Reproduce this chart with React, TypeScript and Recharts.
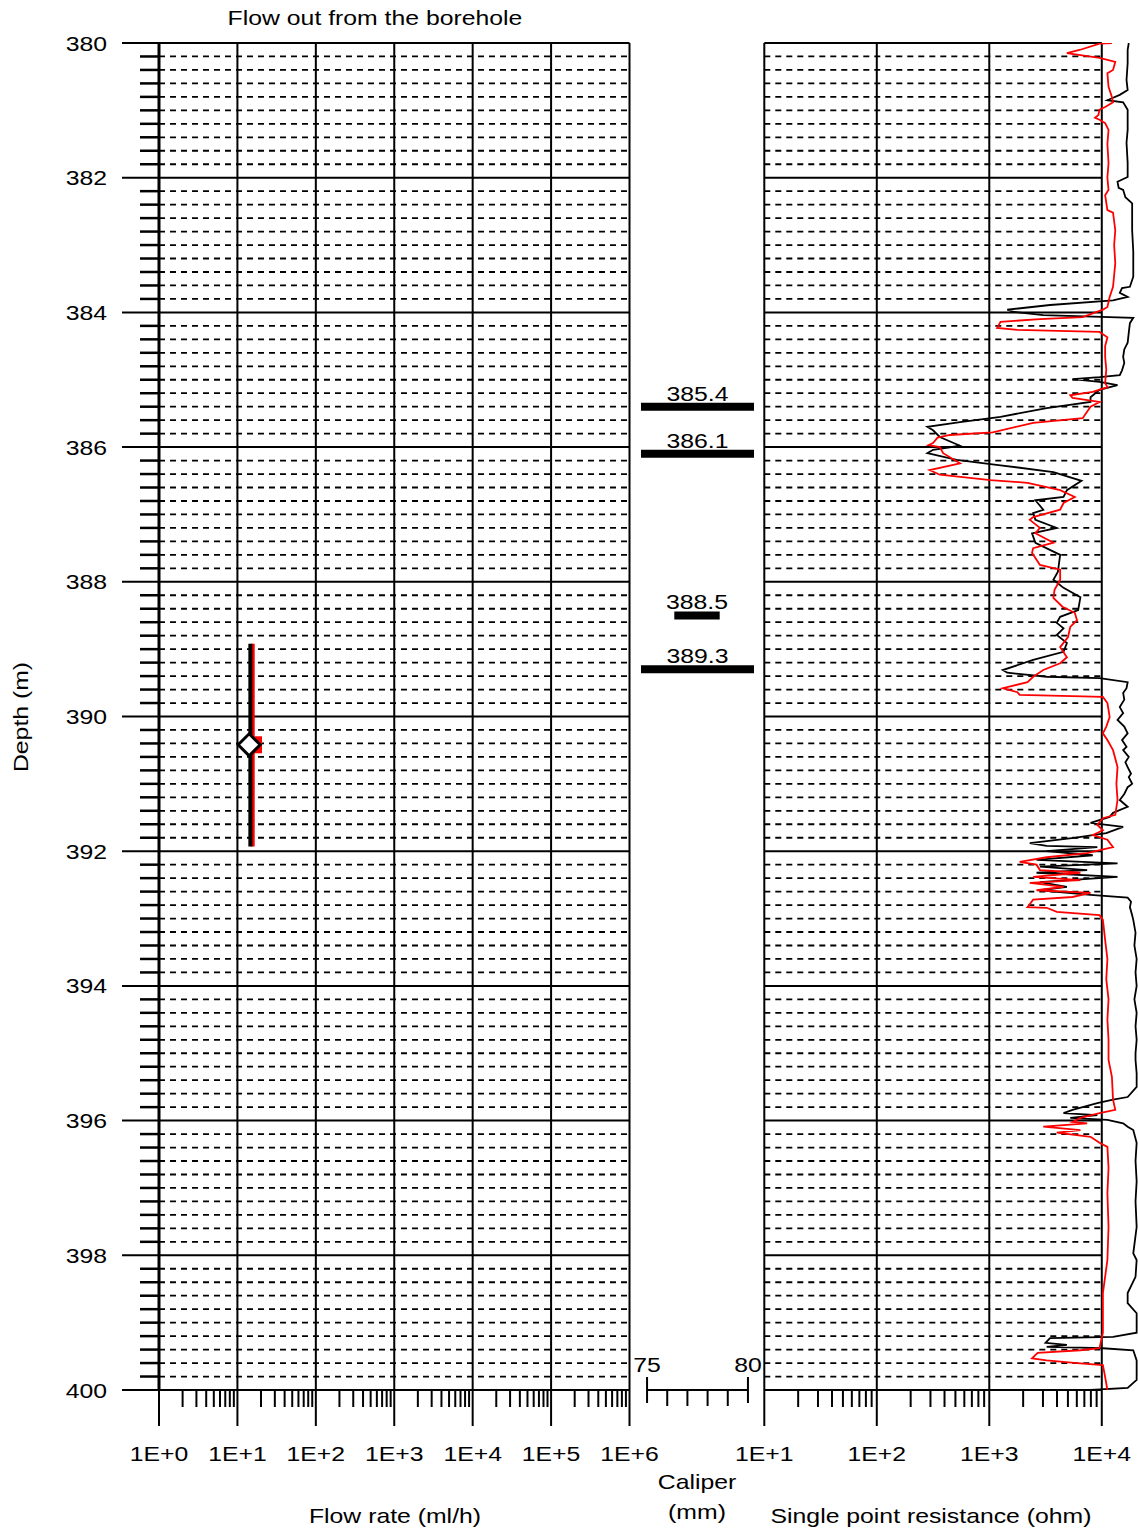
import React from 'react';
import { ComposedChart, Line, XAxis, YAxis, ReferenceLine, ReferenceDot } from 'recharts';

// Borehole log: flow rate (log), caliper anomalies, single point resistance (log),
// all against depth. Three ComposedCharts in vertical layout share one depth scale.

const FONT = "'Liberation Sans', Arial, Helvetica, sans-serif";
const SX = 1.18; // source lettering is drawn a bit wide
const W = 1138;
const H = 1532;
const TOP = 43;
const AXIS_H = 142;

// ---- axes ----
const DEPTH_LABELS = [380, 382, 384, 386, 388, 390, 392, 394, 396, 398, 400];
const DEPTH_STEP = 0.2;
const depthTicks = Array.from({ length: 101 }, (_, i) => Math.round((380 + i * DEPTH_STEP) * 10) / 10);
const minorDepths = depthTicks.filter((d) => !DEPTH_LABELS.includes(d));
const gridMajors = DEPTH_LABELS.filter((d) => d < 400);

const FLOW_DECADES = [0, 1, 2, 3, 4, 5, 6];
const RES_DECADES = [1, 2, 3, 4];
const LOG_MINOR = [2, 3, 4, 5, 6, 7, 8, 9];
const logTicks = (dec: number[]) =>
  dec.flatMap((k, i) => (i === dec.length - 1 ? [k] : [k, ...LOG_MINOR.map((m) => k + Math.log10(m))]));

const CALIPER_TICKS = [75, 76, 77, 78, 79, 80];
const CALIPER_LABELS = [75, 80];

// ---- data ----
// flow out from the borehole, log10(ml/h), over the measured section
const flowBlack = [{ d: 388.92, q: 1.165 }, { d: 391.93, q: 1.165 }];
const flowRed = [{ d: 388.92, q: 1.195 }, { d: 391.93, q: 1.195 }];
const flowMark = { d: 390.42, q: 1.15 };
const flowMarkRed = { d: 390.42, q: 1.205 };

// caliper anomalies (mm) at depth
const fractures = [
  { depth: 385.4, from: 74.7, to: 80.3 },
  { depth: 386.1, from: 74.7, to: 80.3 },
  { depth: 388.5, from: 76.35, to: 78.6 },
  { depth: 389.3, from: 74.7, to: 80.3 },
];

// single point resistance, [depth m, log10 ohm]
const sprBlackRaw: [number, number][] = [
  [380.0, 4.24], [380.1, 4.23], [380.3, 4.23], [380.55, 4.22], [380.7, 4.23], [380.77, 4.16], [380.82, 4.09],
  [380.85, 4.05], [380.88, 4.19], [380.99, 4.23], [381.29, 4.23], [381.48, 4.22], [381.78, 4.23], [381.99, 4.23],
  [382.06, 4.14], [382.15, 4.15], [382.18, 4.19], [382.29, 4.21], [382.38, 4.27], [382.78, 4.27], [383.1, 4.28],
  [383.47, 4.28], [383.62, 4.25], [383.64, 4.18], [383.71, 4.16], [383.77, 4.23], [383.82, 4.1], [383.89, 3.54],
  [383.96, 3.16], [383.99, 3.21], [384.04, 3.48], [384.08, 4.28], [384.16, 4.25], [384.3, 4.24], [384.45, 4.23],
  [384.55, 4.2], [384.66, 4.19], [384.75, 4.2], [384.86, 4.18], [384.93, 4.16], [384.96, 3.98], [384.99, 3.74],
  [385.03, 3.98], [385.08, 4.14], [385.15, 3.98], [385.26, 3.9], [385.33, 3.9], [385.42, 3.51], [385.55, 3.1],
  [385.63, 2.74], [385.7, 2.45], [385.75, 2.5], [385.85, 2.56], [385.98, 2.74], [386.04, 2.5], [386.09, 2.45],
  [386.19, 2.71], [386.27, 3.1], [386.37, 3.57], [386.5, 3.82], [386.64, 3.69], [386.74, 3.66], [386.79, 3.41],
  [386.93, 3.48], [386.98, 3.39], [387.08, 3.41], [387.2, 3.6], [387.28, 3.38], [387.42, 3.41], [387.6, 3.63],
  [387.85, 3.61], [387.97, 3.57], [388.09, 3.66], [388.23, 3.81], [388.42, 3.79], [388.52, 3.63], [388.61, 3.6],
  [388.69, 3.66], [388.79, 3.6], [388.91, 3.69], [389.04, 3.66], [389.16, 3.39], [389.31, 3.12], [389.35, 3.16],
  [389.41, 3.51], [389.43, 3.98], [389.49, 4.23], [389.58, 4.22], [389.65, 4.19], [389.75, 4.2], [389.86, 4.16],
  [389.95, 4.19], [390.05, 4.14], [390.15, 4.2], [390.25, 4.23], [390.35, 4.18], [390.45, 4.22], [390.5, 4.19],
  [390.6, 4.24], [390.68, 4.21], [390.75, 4.23], [390.85, 4.26], [390.9, 4.24], [391.0, 4.27], [391.05, 4.23],
  [391.15, 4.2], [391.24, 4.16], [391.34, 4.23], [391.43, 4.1], [391.49, 4.07], [391.58, 3.9], [391.64, 4.19],
  [391.73, 4.04], [391.8, 3.77], [391.88, 3.36], [391.92, 3.51], [391.94, 3.96], [392.0, 3.51], [392.06, 3.92],
  [392.13, 3.42], [392.18, 4.14], [392.23, 3.45], [392.28, 3.87], [392.32, 3.42], [392.38, 4.14], [392.46, 3.45],
  [392.53, 3.69], [392.58, 3.45], [392.65, 3.9], [392.69, 4.23], [392.75, 4.26], [392.83, 4.25], [392.95, 4.27],
  [393.02, 4.28], [393.21, 4.3], [393.4, 4.29], [393.6, 4.31], [393.8, 4.3], [394.0, 4.31], [394.2, 4.29],
  [394.4, 4.31], [394.6, 4.3], [394.8, 4.31], [395.0, 4.3], [395.1, 4.3], [395.3, 4.31], [395.5, 4.31],
  [395.65, 4.23], [395.69, 4.1], [395.74, 3.96], [395.84, 3.74], [395.89, 3.66], [395.92, 3.96], [395.96, 3.72],
  [395.99, 4.05], [396.04, 4.19], [396.09, 4.23], [396.14, 4.28], [396.33, 4.31], [396.6, 4.3], [396.9, 4.31],
  [397.2, 4.3], [397.58, 4.31], [397.97, 4.28], [398.07, 4.31], [398.32, 4.3], [398.56, 4.23], [398.71, 4.23],
  [398.86, 4.31], [399.15, 4.31], [399.21, 4.1], [399.23, 3.54], [399.3, 3.5], [399.33, 3.69], [399.36, 3.51],
  [399.37, 3.81], [399.38, 4.01], [399.41, 4.28], [399.56, 4.31], [399.85, 4.31], [399.97, 4.23], [400.0, 3.9],
  [400.0, 3.27],
];

const sprRedRaw: [number, number][] = [
  [380.0, 4.09], [380.01, 3.98], [380.1, 3.81], [380.15, 3.69], [380.18, 3.81], [380.22, 3.98], [380.28, 4.12],
  [380.4, 4.1], [380.45, 4.05], [380.65, 4.06], [380.8, 4.09], [380.88, 4.1], [380.95, 4.03], [380.99, 3.98],
  [381.07, 3.97], [381.11, 3.94], [381.14, 3.98], [381.19, 4.03], [381.29, 4.06], [381.5, 4.05], [381.78, 4.06],
  [382.0, 4.05], [382.18, 4.06], [382.26, 4.03], [382.48, 4.05], [382.52, 4.1], [382.78, 4.12], [383.0, 4.11],
  [383.27, 4.12], [383.62, 4.1], [383.77, 4.07], [383.92, 4.05], [383.96, 4.01], [384.07, 3.83], [384.1, 3.45],
  [384.14, 3.1], [384.23, 3.07], [384.26, 3.25], [384.29, 3.98], [384.37, 4.05], [384.5, 4.03], [384.66, 4.03],
  [384.85, 4.04], [385.05, 4.03], [385.11, 4.05], [385.18, 3.92], [385.23, 3.72], [385.27, 3.74], [385.33, 3.98],
  [385.4, 3.9], [385.57, 3.83], [385.64, 3.39], [385.78, 3.03], [385.82, 2.65], [385.86, 2.54], [385.94, 2.5],
  [385.97, 2.46], [386.0, 2.56], [386.09, 2.59], [386.24, 2.74], [386.34, 2.47], [386.41, 2.56], [386.49, 3.01],
  [386.53, 3.34], [386.64, 3.63], [386.74, 3.76], [386.83, 3.66], [386.93, 3.63], [387.04, 3.39], [387.08, 3.36],
  [387.2, 3.45], [387.28, 3.41], [387.42, 3.57], [387.5, 3.39], [387.57, 3.38], [387.75, 3.45], [387.82, 3.63],
  [387.97, 3.63], [388.12, 3.58], [388.24, 3.57], [388.37, 3.65], [388.46, 3.76], [388.57, 3.78], [388.67, 3.72],
  [388.82, 3.7], [388.97, 3.63], [389.12, 3.69], [389.21, 3.63], [389.31, 3.48], [389.41, 3.39], [389.49, 3.34],
  [389.58, 3.12], [389.64, 3.25], [389.68, 3.27], [389.71, 4.01], [389.8, 4.05], [389.9, 4.06], [390.01, 4.07],
  [390.15, 4.04], [390.25, 4.01], [390.35, 4.05], [390.5, 4.1], [390.75, 4.14], [391.0, 4.13], [391.24, 4.14],
  [391.46, 4.12], [391.51, 4.01], [391.61, 3.96], [391.69, 4.01], [391.76, 3.92], [391.83, 4.05], [391.94, 4.1],
  [391.95, 4.07], [392.03, 3.87], [392.09, 3.51], [392.16, 3.27], [392.2, 3.42], [392.28, 3.45], [392.32, 3.81],
  [392.38, 3.39], [392.43, 3.81], [392.47, 3.36], [392.53, 3.66], [392.58, 3.42], [392.62, 3.9], [392.68, 3.74],
  [392.72, 3.39], [392.83, 3.34], [392.84, 3.51], [392.9, 3.6], [392.95, 3.98], [393.02, 4.01], [393.32, 4.03],
  [393.6, 4.05], [393.9, 4.04], [394.2, 4.06], [394.5, 4.05], [394.8, 4.06], [395.1, 4.06], [395.35, 4.09],
  [395.69, 4.1], [395.84, 4.12], [395.89, 3.98], [395.96, 3.81], [396.02, 3.74], [396.04, 3.87], [396.09, 3.48],
  [396.14, 3.81], [396.18, 3.6], [396.24, 3.9], [396.33, 3.98], [396.39, 4.05], [396.7, 4.06], [397.08, 4.05],
  [397.58, 4.06], [398.07, 4.05], [398.56, 4.01], [399.15, 4.01], [399.38, 3.98], [399.41, 3.81], [399.45, 3.43],
  [399.53, 3.38], [399.56, 3.51], [399.6, 3.78], [399.63, 4.01], [399.81, 4.03], [400.0, 4.05],
];

const sprBlack = sprBlackRaw.map(([d, r]) => ({ d, r }));
const sprRed = sprRedRaw.map(([d, r]) => ({ d, r }));

// ---- drawing helpers ----
function SText({ x, y, anchor = 'middle', children }: { x: number; y: number; anchor?: string; children: React.ReactNode }) {
  return (
    <text transform={`translate(${x},${y}) scale(${SX},1)`} textAnchor={anchor as any} fontFamily={FONT} fontSize={21} fill="#000">
      {children}
    </text>
  );
}

function Title({ x, y, text, vertical }: { x: number; y: number; text: string; vertical?: boolean }) {
  return (
    <div style={{
      position: 'absolute', left: x, top: y, whiteSpace: 'nowrap', lineHeight: 1,
      font: `21px ${FONT}`, color: '#000',
      transform: `translate(-50%,-50%)${vertical ? ' rotate(-90deg)' : ''} scaleX(${SX})`,
    }}>{text}</div>
  );
}

const renderLogTick = (p: any) => {
  const v = p.payload.value as number;
  const major = Math.abs(v - Math.round(v)) < 1e-9;
  return (
    <g>
      <line x1={p.x} x2={p.x} y1={p.y} y2={p.y + (major ? 36 : 17)} stroke="#000" strokeWidth={2} />
      {major && <SText x={p.x} y={p.y + 71}>{`1E+${Math.round(v)}`}</SText>}
    </g>
  );
};

const renderDepthTick = (p: any) => {
  const d = p.payload.value as number;
  const major = DEPTH_LABELS.includes(d);
  return (
    <g>
      <line x1={p.x - (major ? 37 : 19)} x2={p.x} y1={p.y} y2={p.y} stroke="#000" strokeWidth={major ? 2 : 2.5} />
      {major && <SText x={p.x - 52} y={p.y + 7.5} anchor="end">{d}</SText>}
    </g>
  );
};

const renderCaliperTick = (p: any) => {
  const v = p.payload.value as number;
  const end = CALIPER_LABELS.includes(v);
  return (
    <g>
      <line x1={p.x} x2={p.x} y1={end ? p.y - 13 : p.y} y2={end ? p.y + 13 : p.y + 16} stroke="#000" strokeWidth={2} />
      {end && <SText x={p.x} y={p.y - 18}>{v}</SText>}
    </g>
  );
};

// vertical layout already runs the depth axis top-down
const depthAxis = (show: boolean) => (
  <YAxis type="number" dataKey="d" domain={[380, 400]} allowDataOverflow hide={!show}
    ticks={depthTicks} interval={0} tick={renderDepthTick} tickSize={0} tickMargin={0} tickLine={false}
    axisLine={{ stroke: '#000', strokeWidth: 3 }} width={159} />
);

const box: React.CSSProperties = { position: 'absolute', left: 0, top: 0 };

export default function App() {
  return (
    <div style={{ position: 'absolute', left: 0, top: 0, width: W, height: H, background: '#fff' }}>
      {/* flow rate */}
      <div style={box}>
        <ComposedChart width={W} height={H} layout="vertical" margin={{ top: TOP, right: W - 629.5, bottom: 0, left: 0 }}>
          <XAxis type="number" domain={[0, 6]} allowDataOverflow ticks={logTicks(FLOW_DECADES)} interval={0}
            tick={renderLogTick} tickSize={0} tickMargin={0} tickLine={false}
            axisLine={{ stroke: '#000', strokeWidth: 2 }} height={AXIS_H} />
          {depthAxis(true)}
          {minorDepths.map((d) => (
            <ReferenceLine key={`m${d}`} y={d} stroke="#000" strokeWidth={1.8} strokeDasharray="6 5" />
          ))}
          {gridMajors.map((d) => <ReferenceLine key={`M${d}`} y={d} stroke="#000" strokeWidth={2} />)}
          {FLOW_DECADES.slice(1).map((k) => <ReferenceLine key={`x${k}`} x={k} stroke="#000" strokeWidth={2} />)}
          <ReferenceDot x={flowMarkRed.q} y={flowMarkRed.d}
            shape={(p: any) => <rect x={p.cx - 8.5} y={p.cy - 8.5} width={17} height={17} fill="#ff0000" />} />
          <ReferenceDot x={flowMark.q} y={flowMark.d}
            shape={(p: any) => (
              <polygon points={`${p.cx - 11},${p.cy} ${p.cx},${p.cy - 11} ${p.cx + 11},${p.cy} ${p.cx},${p.cy + 11}`}
                fill="#fff" stroke="#000" strokeWidth={3} />
            )} />
          <Line data={flowRed} dataKey="q" stroke="#ff0000" strokeWidth={4} dot={false} isAnimationActive={false} />
          <Line data={flowBlack} dataKey="q" stroke="#000" strokeWidth={4} dot={false} isAnimationActive={false} />
        </ComposedChart>
      </div>

      {/* caliper */}
      <div style={box}>
        <ComposedChart width={W} height={H} layout="vertical" margin={{ top: TOP, right: W - 754, bottom: 0, left: 641 }}>
          <XAxis type="number" domain={[74.7, 80.3]} allowDataOverflow ticks={CALIPER_TICKS} interval={0}
            tick={renderCaliperTick} tickSize={0} tickMargin={0} tickLine={false} axisLine={false} height={AXIS_H} />
          {depthAxis(false)}
          <ReferenceLine segment={[{ x: 75, y: 400 }, { x: 80, y: 400 }]} stroke="#000" strokeWidth={2} />
          {fractures.map((f) => (
            <ReferenceLine key={`f${f.depth}`} segment={[{ x: f.from, y: f.depth }, { x: f.to, y: f.depth }]}
              stroke="#000" strokeWidth={8} />
          ))}
          {fractures.map((f) => (
            <ReferenceDot key={`fl${f.depth}`} x={(f.from + f.to) / 2} y={f.depth}
              shape={(p: any) => <SText x={p.cx} y={p.cy - 6}>{f.depth.toFixed(1)}</SText>} />
          ))}
        </ComposedChart>
      </div>

      {/* single point resistance */}
      <div style={box}>
        <ComposedChart width={W} height={H} layout="vertical" margin={{ top: TOP, right: 0, bottom: 0, left: 764.3 }}>
          <XAxis type="number" domain={[1, 4.322]} allowDataOverflow ticks={logTicks(RES_DECADES)} interval={0}
            tick={renderLogTick} tickSize={0} tickMargin={0} tickLine={false} axisLine={false} height={AXIS_H} />
          {depthAxis(false)}
          {minorDepths.map((d) => (
            <ReferenceLine key={`m${d}`} segment={[{ x: 1, y: d }, { x: 4, y: d }]} stroke="#000" strokeWidth={1.8} strokeDasharray="6 5" />
          ))}
          {DEPTH_LABELS.map((d) => (
            <ReferenceLine key={`M${d}`} segment={[{ x: 1, y: d }, { x: 4, y: d }]} stroke="#000" strokeWidth={2} />
          ))}
          {RES_DECADES.map((k) => <ReferenceLine key={`x${k}`} x={k} stroke="#000" strokeWidth={2} />)}
          <Line data={sprBlack} dataKey="r" stroke="#000" strokeWidth={1.8} dot={false} isAnimationActive={false} />
          <Line data={sprRed} dataKey="r" stroke="#ff0000" strokeWidth={1.8} dot={false} isAnimationActive={false} />
        </ComposedChart>
      </div>

      <Title x={375} y={18} text="Flow out from the borehole" />
      <Title x={21} y={717} text="Depth (m)" vertical />
      <Title x={395} y={1516} text="Flow rate (ml/h)" />
      <Title x={697} y={1482} text="Caliper" />
      <Title x={697} y={1512} text="(mm)" />
      <Title x={931} y={1516} text="Single point resistance (ohm)" />
    </div>
  );
}
